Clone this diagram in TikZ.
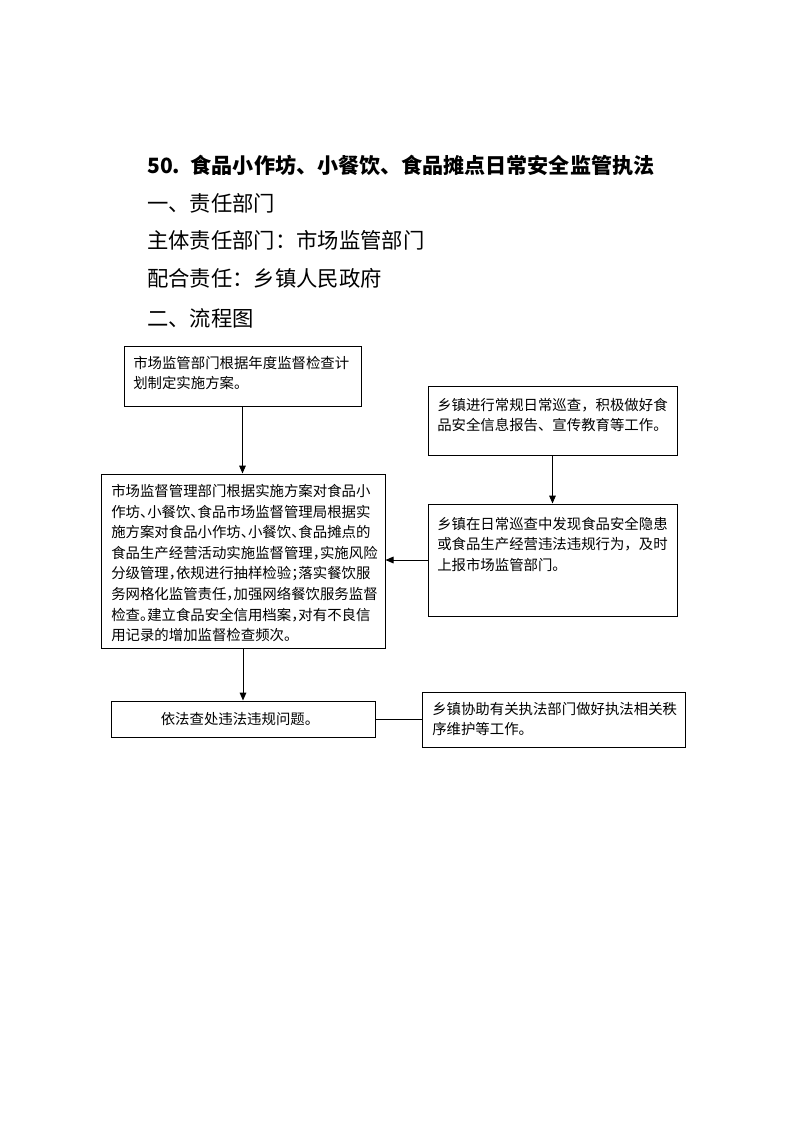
\documentclass[tikz,border=0pt]{standalone}
\usepackage{fontspec}
\setmainfont{Noto Sans CJK SC}
\usetikzlibrary{arrows.meta,positioning,fit}

\newcommand{\boxfont}{\fontsize{10.8pt}{15.3pt}\selectfont}
\newcommand{\headfont}{\fontsize{16pt}{20pt}\selectfont}
\newcommand{\hp}[1]{\makebox[0.5em][l]{#1}}% half-width punctuation

\begin{document}
\begin{tikzpicture}[x=0.75pt,y=-0.75pt,
  box/.style={draw=black,line width=0.75pt,inner sep=0pt},
  txt/.style={anchor=north west,align=left,inner sep=0pt,font=\boxfont},
  head/.style={anchor=west,inner sep=0pt,font=\headfont},
  link/.style={line width=0.75pt},
  arr/.style={link,-{Triangle[length=6pt,width=5pt]}}]
  \useasboundingbox (0,0) rectangle (793,1122);

  % heading lines
  \node[head,font=\fontsize{15.8pt}{20pt}\selectfont\bfseries] (title) at (147,165) {50.\hspace{0.5em}食品小作坊、小餐饮、食品摊点日常安全监管执法};
  \node[head] (sec1) at (147,203) {一、责任部门};
  \node[head] (dept) at (147,240) {主体责任部门：市场监管部门};
  \node[head] (coop) at (147,278) {配合责任：乡镇人民政府};
  \node[head] (sec2) at (147,318) {二、流程图};

  % boxes
  \node[box,fit={(124,346) (361,406)}] (plan) {};
  \node[box,fit={(428,386) (677,455)}] (patrol) {};
  \node[box,fit={(101,474) (385,648)}] (supervise) {};
  \node[box,fit={(428,504) (677,616)}] (discover) {};
  \node[box,fit={(111,701) (375,737)}] (punish) {};
  \node[box,fit={(422,692) (685,747)}] (assist) {};

  % box texts
  \node[txt] (planT) at (133,356) {市场监管部门根据年度监督检查计\\划制定实施方案。};
  \node[txt] (patrolT) at (437,398) {乡镇进行常规日常巡查，积极做好食\\品安全信息报告、宣传教育等工作。};
  \node[txt,font=\fontsize{10.8pt}{15.45pt}\selectfont] (superviseT) at (111,484) {市场监督管理部门根据实施方案对食品小\\作坊\hp{、}小餐饮\hp{、}食品市场监督管理局根据实\\施方案对食品小作坊\hp{、}小餐饮\hp{、}食品摊点的\\食品生产经营活动实施监督管理\hp{，}实施风险\\分级管理\hp{，}依规进行抽样检验\hp{；}落实餐饮服\\务网格化监管责任\hp{，}加强网络餐饮服务监督\\检查\hp{。}建立食品安全信用档案\hp{，}对有不良信\\用记录的增加监督检查频次\hp{。}};
  \node[txt] (discoverT) at (437,517) {乡镇在日常巡查中发现食品安全隐患\\或食品生产经营违法违规行为，及时\\上报市场监管部门。};
  \node[txt,anchor=center] (punishT) at (240,719) {依法查处违法违规问题。};
  \node[txt] (assistT) at (432,702) {乡镇协助有关执法部门做好执法相关秩\\序维护等工作。};

  % connectors
  \draw[arr] (plan.south) -- (plan.south |- supervise.north);
  \draw[arr] (patrol.south) -- (patrol.south |- discover.north);
  \draw[arr] (discover.west) -- (discover.west -| supervise.east);
  \draw[arr] (supervise.south) -- (supervise.south |- punish.north);
  \draw[link] (assist.west) -- (assist.west -| punish.east);
\end{tikzpicture}
\end{document}
